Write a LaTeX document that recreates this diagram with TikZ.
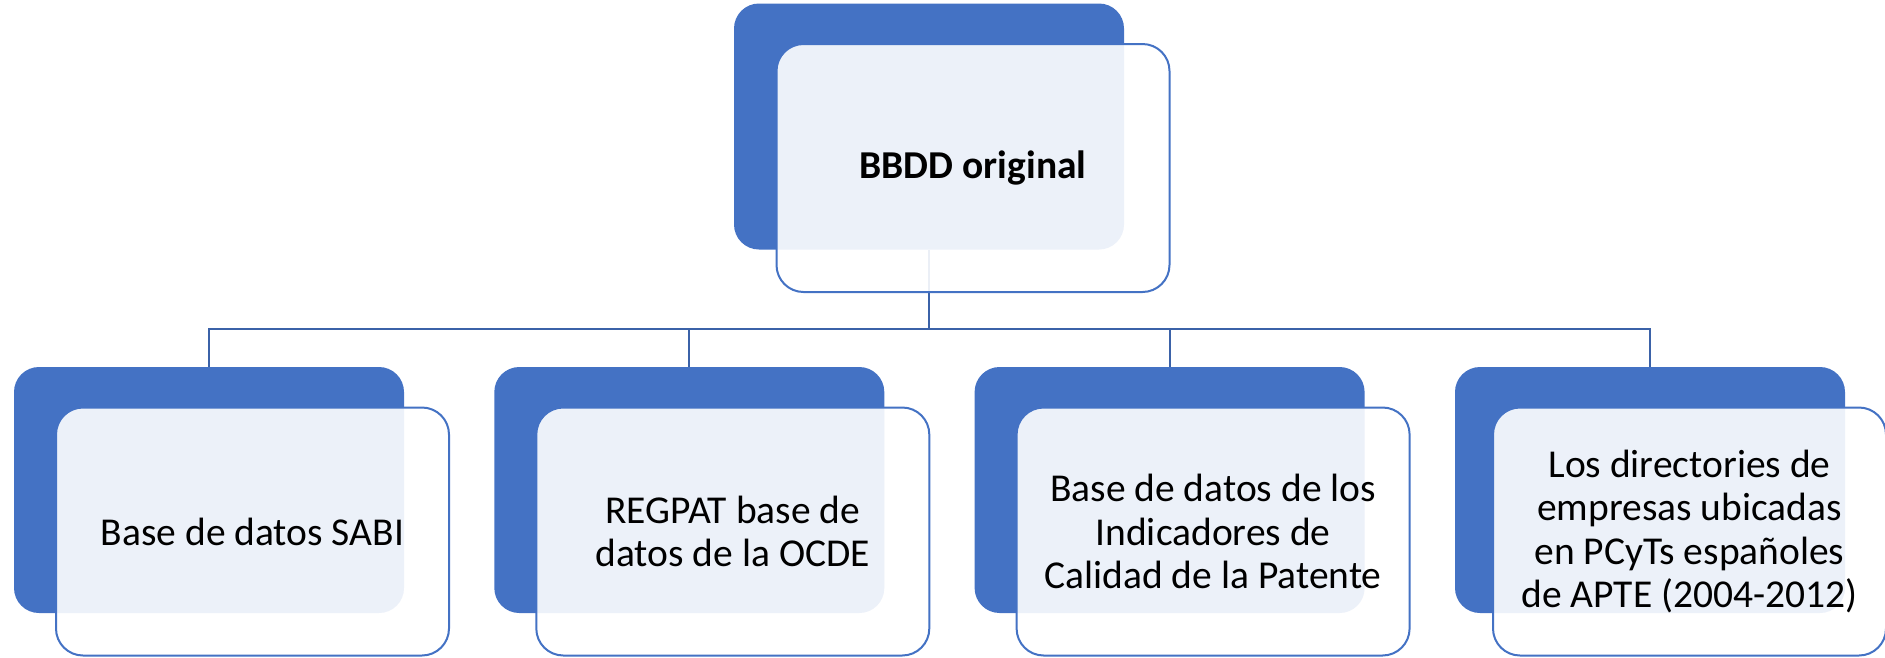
\documentclass[tikz,border=0pt]{standalone}
\usepackage{fontspec}
\setmainfont{Carlito}
\definecolor{darkfill}{HTML}{4472C4}
\definecolor{connblue}{HTML}{3B62A8}
\begin{document}
\begin{tikzpicture}[x=1pt,y=-1pt,
  darkbox/.style={rectangle, rounded corners=25pt, inner sep=0pt, fill=darkfill, draw=none,
    minimum width=390pt, minimum height=246pt},
  lightbox/.style={rectangle, rounded corners=27pt, inner sep=0pt, fill=white, fill opacity=0.9,
    text opacity=1, draw=darkfill, line width=2pt, minimum width=393pt, minimum height=248pt,
    align=center, font=\fontsize{39.5}{43.5}\selectfont, text=black},
  conn/.style={draw=connblue, line width=2pt}]
\useasboundingbox (0,0) rectangle (1885,657);
\coordinate (bus) at (929,329);
% top
\node[darkbox] (d0) at (929,126.5) {};
\draw[conn] (d0.south) -- (bus);
% bottom dark boxes and connectors
\foreach \i/\x in {1/209, 2/689.3, 3/1169.6, 4/1650} {
  \node[darkbox] (d\i) at (\x,490) {};
}
\foreach \i in {1,2,3,4} {
  \draw[conn] (d\i.north) |- (bus);
}
% light boxes
\node[lightbox, font=\fontsize{39.5}{43.5}\selectfont\bfseries] (l0) at (973,168) {BBDD original};
\node[lightbox] (l1) at (252.5,531.5) {Base de datos SABI};
\node[lightbox] (l2) at (732.8,531.5) {REGPAT base de\\datos de la OCDE};
\node[lightbox] (l3) at (1213.1,531.5) {Base de datos de los\\Indicadores de\\Calidad de la Patente};
\node[lightbox] (l4) at (1689.5,531.5) {Los directories de\\empresas ubicadas\\en PCyTs españoles\\de APTE (2004-2012)};
\end{tikzpicture}
\end{document}
